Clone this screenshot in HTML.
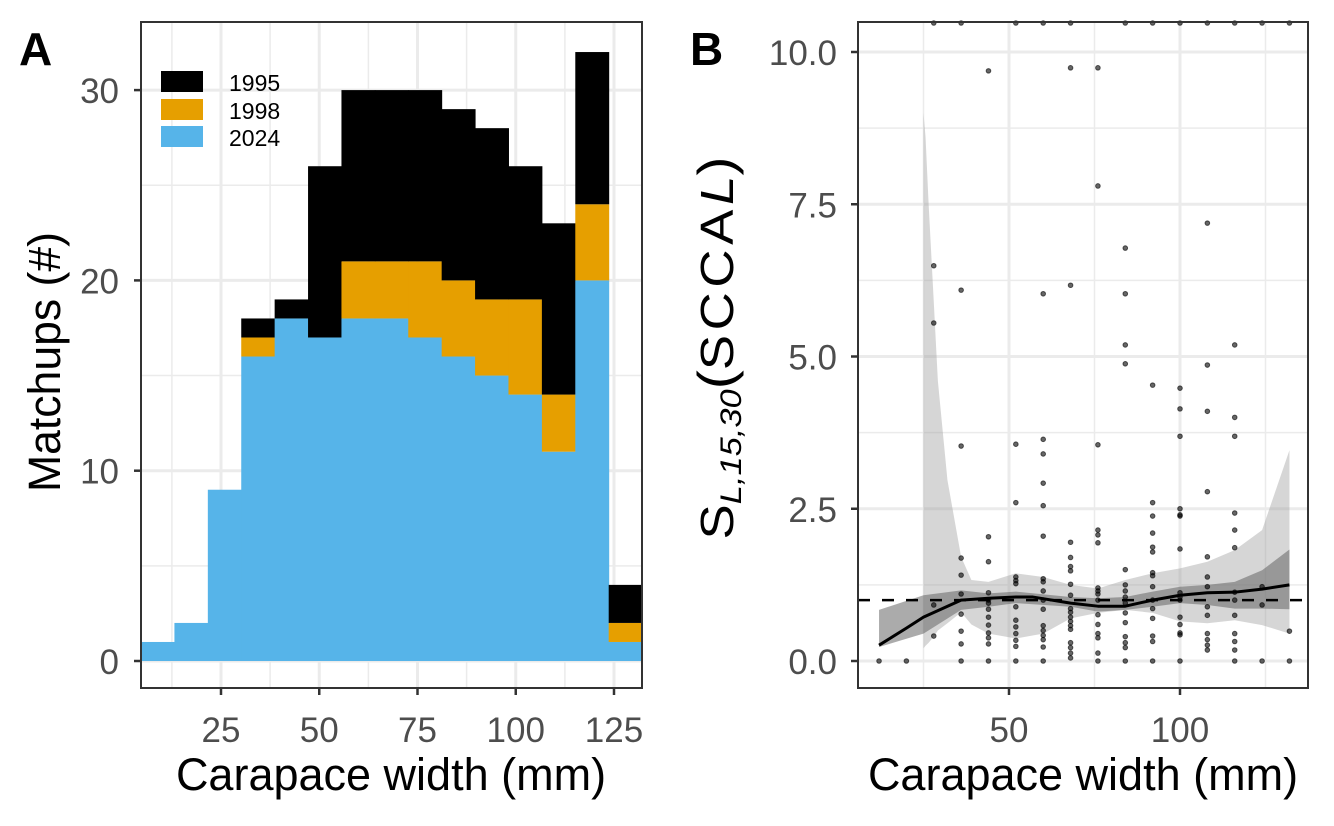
<!DOCTYPE html>
<html><head><meta charset="utf-8"><style>
body{margin:0;background:#fff;}
svg{display:block;font-family:"Liberation Sans",sans-serif;}
</style></head><body>
<svg id="fig" width="1334" height="826" viewBox="0 0 1334 826"></svg>
<script>
// ---------- Panel A data ----------
const binCenters = [8.9,17.4,25.9,34.4,42.9,51.4,59.9,68.4,76.9,85.4,93.9,102.4,110.9,119.4,127.9];
const count2024 = [1,2,9,16,18,17,18,18,17,16,15,14,11,20,1];
const count1998 = [0,0,0,1,0,0,3,3,4,4,4,5,3,4,1];
const count1995 = [0,0,0,1,1,9,9,9,9,9,9,7,9,8,2];
const binWidth = 8.5;
const yTicksA = [0,10,20,30];
const xTicksA = [25,50,75,100,125];
// ---------- Panel B data ----------
const ptX = [12,20,28,28,28,28,28,36,36,36,36,36,36,36,36,36,36,
 44,44,44,44,44,44,44,44,44,44,44,44,44,
 52,52,52,52,52,52,52,52,52,52,52,52,52,
 60,60,60,60,60,60,60,60,60,60,60,60,60,60,60,60,60,60,
 68,68,68,68,68,68,68,68,68,68,68,68,68,68,68,68,68,68,68,
 76,76,76,76,76,76,76,76,76,76,76,76,76,76,76,76,
 84,84,84,84,84,84,84,84,84,84,84,84,84,84,84,84,
 92,92,92,92,92,92,92,92,92,92,92,92,92,92,92,92,
 100,100,100,100,100,100,100,100,100,100,100,100,100,100,100,100,
 108,108,108,108,108,108,108,108,108,108,108,108,108,108,
 116,116,116,116,116,116,116,116,116,116,116,116,116,116,
 124,124,124,124,132,132,132];
const ptY = [0,0,10.5,6.49,5.55,0.92,0.41,10.5,6.09,3.53,1.69,1.41,1.1,0.77,0.49,0.28,0,
 9.69,2.04,1.63,1.12,1.0,0.95,0.85,0.72,0.59,0.46,0.38,0.28,0,
 10.5,3.56,2.6,1.38,1.32,1.27,0.89,0.67,0.56,0.45,0.34,0.24,0,
 10.5,6.03,3.64,3.4,2.92,2.55,2.05,1.35,1.3,1.15,1.0,0.85,0.58,0.5,0.42,0.35,0.23,0,
 10.5,9.74,6.17,1.95,1.7,1.55,1.48,1.26,1.08,0.86,0.8,0.72,0.65,0.58,0.52,0.3,0.22,0.13,0.05,
 9.74,7.8,3.55,2.15,2.07,1.94,1.2,1.15,1.1,1.0,0.76,0.6,0.45,0.38,0.13,0,
 10.5,6.78,6.03,5.19,4.88,1.5,1.25,1.05,0.79,0.63,0.4,0.3,0.22,0,0.95,1.15,
 10.5,4.53,2.6,2.38,2.1,1.87,1.79,1.45,1.4,1.22,1.0,0.86,0.7,0.41,0.32,0,
 10.5,4.48,4.14,3.69,2.5,2.4,2.38,1.84,1.12,1.0,0.72,0.6,0.46,0.43,0,1.05,
 10.5,7.19,4.86,4.1,2.78,1.71,1.38,1.22,0.89,0.75,0.45,0.35,0.26,0.18,
 10.5,5.19,4.0,3.69,2.43,2.15,1.86,1.13,1.0,0.75,0.45,0.32,0.18,0,
 10.5,1.22,0.92,0,10.5,0.49,0];
const fitX = [12,20,25,36,44,52,57,68,76,84,92,100,108,116,124,132];
const fitY = [0.26,0.54,0.72,1.0,1.03,1.05,1.05,0.95,0.9,0.9,1.0,1.08,1.12,1.13,1.18,1.25];
const ciX = [12,25,36,44,52,68,76,84,92,100,108,116,124,132];
const ciHi = [0.84,1.08,1.16,1.11,1.14,1.05,1.03,1.05,1.14,1.22,1.25,1.3,1.49,1.83];
const ciLo = [0.23,0.45,0.84,0.89,0.95,0.89,0.81,0.84,0.89,0.95,0.92,0.86,0.86,0.85];
const wideX = [25,25.6,26.5,28,29.2,32,36,39,44,52,60,68,76,84,92,100,108,116,124,132];
const wideHi = [9.0,8.6,7.5,5.9,4.6,2.97,1.71,1.33,1.3,1.44,1.38,1.25,1.19,1.33,1.44,1.52,1.63,1.82,2.15,3.46];
const wideLo = [0.21,0.25,0.3,0.4,0.5,0.62,0.8,0.6,0.45,0.37,0.45,0.7,0.79,0.84,0.79,0.65,0.62,0.67,0.59,0.45];
const yTicksB = [0,2.5,5,7.5,10];
const yTickLabB = ["0.0","2.5","5.0","7.5","10.0"];
const xTicksB = [50,100];

const NS="http://www.w3.org/2000/svg";
const svg=document.getElementById('fig');
function mk(tag,attrs,parent){const e=document.createElementNS(NS,tag);for(const k in attrs)e.setAttribute(k,attrs[k]);(parent||svg).appendChild(e);return e;}
const TFS=35;

// ===== Panel A =====
const AL=141,AR=642,AT=22,AB=688;
const xA=v=>221+(v-25)*3.93;
const yA=v=>661-v*19.03;
const gA=mk('g',{});


for(let v=5;v<35;v+=10){const l=mk('line',{x1:AL,x2:AR,y1:yA(v),y2:yA(v),stroke:'#ebebeb','stroke-width':1.5},gA);}
for(let v=12.5;v<135;v+=25){const l=mk('line',{x1:xA(v),x2:xA(v),y1:AT,y2:AB,stroke:'#ebebeb','stroke-width':1.5},gA);}
yTicksA.forEach(v=>{const l=mk('line',{x1:AL,x2:AR,y1:yA(v),y2:yA(v),stroke:'#ebebeb','stroke-width':3},gA);});
xTicksA.forEach(v=>{const l=mk('line',{x1:xA(v),x2:xA(v),y1:AT,y2:AB,stroke:'#ebebeb','stroke-width':3},gA);});
binCenters.forEach((c,i)=>{
  const x0=xA(c-binWidth/2), w=xA(c+binWidth/2)-x0;
  const a=count2024[i], b=a+count1998[i], t=b+count1995[i];
  let r=mk('rect',{x:x0,y:yA(a),width:w+0.5,height:yA(0)-yA(a),fill:'#56b4e9'},gA);
  
  if(count1998[i]>0){r=mk('rect',{x:x0,y:yA(b),width:w+0.5,height:yA(a)-yA(b),fill:'#e69f00'},gA);
  }
  if(count1995[i]>0){r=mk('rect',{x:x0,y:yA(t),width:w+0.5,height:yA(b)-yA(t),fill:'#000'},gA);
  }
});
let fr=mk('rect',{x:AL,y:AT,width:AR-AL,height:AB-AT,fill:'none',stroke:'#333','stroke-width':2},gA);

yTicksA.forEach(v=>{
  mk('line',{x1:AL-7,x2:AL,y1:yA(v),y2:yA(v),stroke:'#333','stroke-width':2.5},gA);
  const t=mk('text',{x:AL-22,y:yA(v)+13,'text-anchor':'end','font-size':TFS,fill:'#4d4d4d'},gA);t.textContent=v;
  
});
xTicksA.forEach(v=>{
  mk('line',{x1:xA(v),x2:xA(v),y1:AB,y2:AB+7,stroke:'#333','stroke-width':2.5},gA);
  const t=mk('text',{x:xA(v),y:742,'text-anchor':'middle','font-size':TFS,fill:'#4d4d4d'},gA);t.textContent=v;
  
});
const legA=[['1995','#000',71],['1998','#e69f00',99],['2024','#56b4e9',126]];
legA.forEach(([lab,col,y])=>{
  const r=mk('rect',{x:161,y:y,width:42,height:21,fill:col},gA);
  
  const t=mk('text',{x:229,y:y+20,'font-size':23,fill:'#000'},gA);t.textContent=lab;
  
});
let tt=mk('text',{x:391,y:790,'text-anchor':'middle','font-size':45,fill:'#000'},gA);tt.textContent='Carapace width (mm)';

tt=mk('text',{x:0,y:0,'text-anchor':'middle','font-size':45,fill:'#000',textLength:260,lengthAdjust:'spacingAndGlyphs',transform:'translate(60,362) rotate(-90)'},gA);tt.textContent='Matchups (#)';

tt=mk('text',{x:19,y:65,'font-size':46,'font-weight':'bold',fill:'#000'},gA);tt.textContent='A';


// ===== Panel B =====
const BL=858,BR=1308,BT=22,BB=688;
const xB=v=>1009+(v-50)*3.42;
const yB=v=>661-v*60.9;
const gB=mk('g',{});


for(let v=1.25;v<11;v+=2.5){const l=mk('line',{x1:BL,x2:BR,y1:yB(v),y2:yB(v),stroke:'#ebebeb','stroke-width':1.5},gB);}
[25,75,125].forEach(v=>{const l=mk('line',{x1:xB(v),x2:xB(v),y1:BT,y2:BB,stroke:'#ebebeb','stroke-width':1.5},gB);});
yTicksB.forEach(v=>{const l=mk('line',{x1:BL,x2:BR,y1:yB(v),y2:yB(v),stroke:'#ebebeb','stroke-width':3},gB);});
xTicksB.forEach(v=>{const l=mk('line',{x1:xB(v),x2:xB(v),y1:BT,y2:BB,stroke:'#ebebeb','stroke-width':3},gB);});
function band(xs,hi,lo){let d='';xs.forEach((x,i)=>{d+=(i?'L':'M')+xB(x)+','+yB(hi[i]);});for(let i=xs.length-1;i>=0;i--)d+='L'+xB(xs[i])+','+yB(lo[i]);return d+'Z';}
let p=mk('path',{d:band(wideX,wideHi,wideLo),fill:'#999','fill-opacity':0.4},gB);

p=mk('path',{d:band(ciX,ciHi,ciLo),fill:'#666','fill-opacity':0.55},gB);

ptX.forEach((x,i)=>{const c=mk('circle',{cx:xB(x),cy:Math.max(yB(ptY[i]),BT+1),r:2.3,fill:'#000','fill-opacity':0.6,stroke:'#000','stroke-opacity':0.6,'stroke-width':1},gB);
  });
let dl=mk('line',{x1:BL,x2:BR,y1:yB(1),y2:yB(1),stroke:'#000','stroke-width':2.5,'stroke-dasharray':'12,12'},gB);

let fd='';fitX.forEach((x,i)=>{fd+=(i?'L':'M')+xB(x)+','+yB(fitY[i]);});
p=mk('path',{d:fd,fill:'none',stroke:'#000','stroke-width':3,'stroke-linejoin':'round'},gB);

fr=mk('rect',{x:BL,y:BT,width:BR-BL,height:BB-BT,fill:'none',stroke:'#333','stroke-width':2},gB);

yTicksB.forEach((v,i)=>{
  mk('line',{x1:BL-7,x2:BL,y1:yB(v),y2:yB(v),stroke:'#333','stroke-width':2.5},gB);
  const t=mk('text',{x:BL-21,y:yB(v)+13,'text-anchor':'end','font-size':TFS,fill:'#4d4d4d'},gB);t.textContent=yTickLabB[i];
  
});
xTicksB.forEach(v=>{
  mk('line',{x1:xB(v),x2:xB(v),y1:BB,y2:BB+7,stroke:'#333','stroke-width':2.5},gB);
  const t=mk('text',{x:xB(v),y:742,'text-anchor':'middle','font-size':TFS,fill:'#4d4d4d'},gB);t.textContent=v;
  
});
tt=mk('text',{x:1083,y:790,'text-anchor':'middle','font-size':45,fill:'#000'},gB);tt.textContent='Carapace width (mm)';

tt=mk('text',{x:0,y:0,'text-anchor':'middle','font-size':46,fill:'#000',textLength:383,lengthAdjust:'spacingAndGlyphs',transform:'translate(733,348) rotate(-90)'},gB);
tt.innerHTML='<tspan>S</tspan><tspan font-style="italic" font-size="30" dy="8">L,15,30</tspan><tspan dy="-8" font-size="50">(</tspan><tspan letter-spacing="4">SCCA</tspan><tspan font-style="italic">L</tspan><tspan font-size="50">)</tspan>';

tt=mk('text',{x:690,y:65,'font-size':46,'font-weight':'bold',fill:'#000'},gB);tt.textContent='B';

</script>
</body></html>
